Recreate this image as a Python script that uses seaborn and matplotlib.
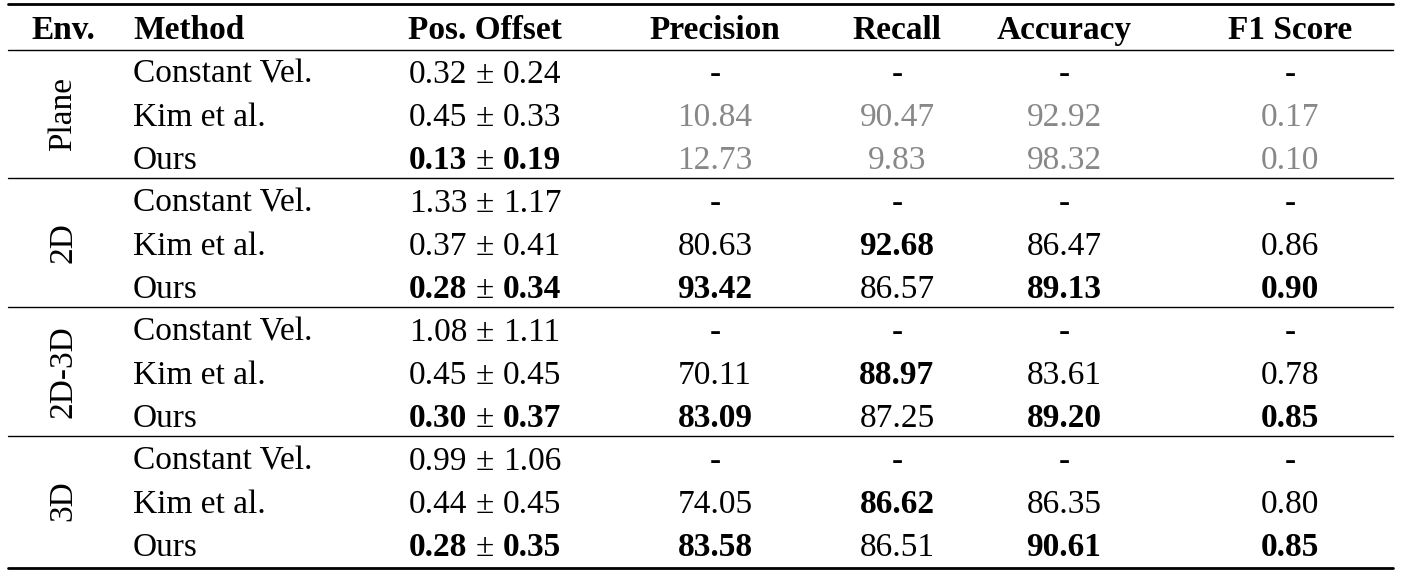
import matplotlib
matplotlib.use("Agg")
import matplotlib.pyplot as plt
import seaborn as sns

sns.set_theme(style="white")
plt.rcParams['font.family'] = ['Liberation Serif', 'DejaVu Serif']
plt.rcParams['text.color'] = 'black'

envs = ["Plane", "2D", "2D-3D", "3D"]
methods = ["Constant Vel.", "Kim et al.", "Ours"]
headers = ["Env.", "Method", "Pos. Offset", "Precision", "Recall", "Accuracy", "F1 Score"]
pos_mean = [["0.32", "0.45", "0.13"], ["1.33", "0.37", "0.28"], ["1.08", "0.45", "0.30"], ["0.99", "0.44", "0.28"]]
pos_std = [["0.24", "0.33", "0.19"], ["1.17", "0.41", "0.34"], ["1.11", "0.45", "0.37"], ["1.06", "0.45", "0.35"]]
precision = [["-", "10.84", "12.73"], ["-", "80.63", "93.42"], ["-", "70.11", "83.09"], ["-", "74.05", "83.58"]]
recall = [["-", "90.47", "9.83"], ["-", "92.68", "86.57"], ["-", "88.97", "87.25"], ["-", "86.62", "86.51"]]
accuracy = [["-", "92.92", "98.32"], ["-", "86.47", "89.13"], ["-", "83.61", "89.20"], ["-", "86.35", "90.61"]]
f1 = [["-", "0.17", "0.10"], ["-", "0.86", "0.90"], ["-", "0.78", "0.85"], ["-", "0.80", "0.85"]]
bold_metrics = {(1, 1, 1), (1, 2, 0), (1, 2, 2), (1, 2, 3),
                (2, 1, 1), (2, 2, 0), (2, 2, 2), (2, 2, 3),
                (3, 1, 1), (3, 2, 0), (3, 2, 2), (3, 2, 3)}  # (env, method, metric col)

fig = plt.figure(figsize=(14.01, 5.76), dpi=100)
ax = fig.add_axes([0, 0, 1, 1])
ax.set_xlim(0, 1401); ax.set_ylim(576, 0); ax.axis("off")
fs = 24
hx = [63, 133, 485, 715, 897, 1064, 1290]
for i, h in enumerate(headers):
    ax.text(hx[i], 27, h, ha="left" if i == 1 else "center", va="center_baseline",
            fontsize=fs, fontweight="bold", color="black")

ax.plot([8, 1393], [4, 4], color="black", lw=2)
ax.plot([8, 1393], [50, 50], color="black", lw=1)
ax.plot([8, 1393], [568, 568], color="black", lw=2)
row_h = 43
metric_cols = [precision, recall, accuracy, f1]
for e, env in enumerate(envs):
    y0 = 71 + e * 3 * row_h
    if e > 0:
        ax.plot([8, 1393], [y0 - 22, y0 - 22], color="black", lw=1)
    ax.text(63, y0 + row_h, env, rotation=90, ha="center", va="center", fontsize=fs, color="black")
    for m, meth in enumerate(methods):
        y = y0 + m * row_h
        ax.text(133, y, meth, ha="left", va="center_baseline", fontsize=fs, color="black")
        w = "bold" if m == 2 else "normal"
        ax.text(467, y, pos_mean[e][m], ha="right", va="center_baseline", fontsize=fs, fontweight=w, color="black")
        ax.text(485, y, "±", ha="center", va="center_baseline", fontsize=fs, color="black")
        ax.text(503, y, pos_std[e][m], ha="left", va="center_baseline", fontsize=fs, fontweight=w, color="black")
        for c, col in enumerate(metric_cols):
            v = col[e][m]
            color = "#888888" if (e == 0 and v != "-") else "black"
            wt = "bold" if (e, m, c) in bold_metrics else "normal"
            ax.text(hx[c + 3], y, v, ha="center", va="center_baseline", fontsize=fs, fontweight=wt, color=color)

fig.savefig("out.png", dpi=100)
